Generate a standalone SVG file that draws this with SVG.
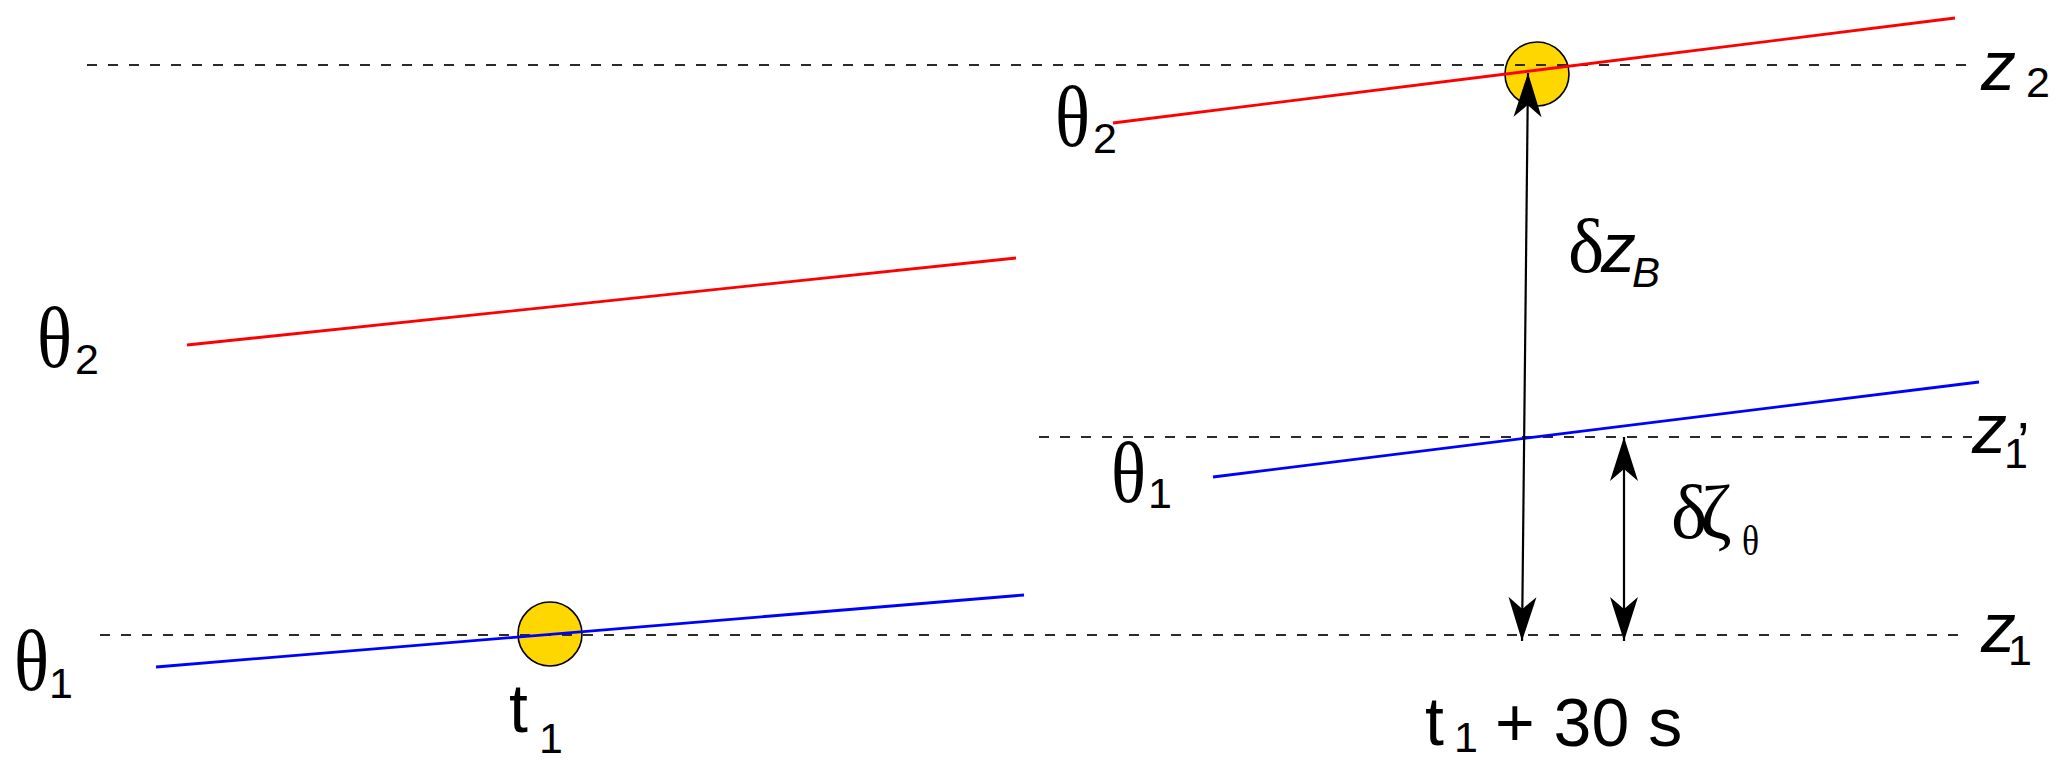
<svg xmlns="http://www.w3.org/2000/svg" width="2067" height="771" viewBox="0 0 2067 771">
<style>
.bg{fill:#ffffff}
.dash{stroke:#2a2a2a;stroke-width:2;stroke-dasharray:10 11;fill:none}
.red{stroke:#ff0000;stroke-width:2.8;fill:none}
.blue{stroke:#0000ff;stroke-width:2.8;fill:none}
.dot{fill:#ffd700;stroke:#000000;stroke-width:1.6}
.arr{stroke:#000000;stroke-width:2.2;fill:none;marker-start:url(#ah);marker-end:url(#ah)}
.gk{font-family:"Liberation Serif","DejaVu Serif",serif;font-size:77px;fill:#000}
.th{font-family:"Liberation Serif","DejaVu Serif",serif;font-size:86px;fill:#000}
.gks{font-family:"Liberation Serif","DejaVu Serif",serif;font-size:42px;fill:#000}
.sn{font-family:"Liberation Sans",Arial,sans-serif;font-size:68px;fill:#000}
.it{font-family:"Liberation Sans",Arial,sans-serif;font-size:70px;font-style:italic;fill:#000}
.sub{font-family:"Liberation Sans",Arial,sans-serif;font-size:43px;fill:#000}
.subi{font-family:"Liberation Sans",Arial,sans-serif;font-size:42px;font-style:italic;fill:#000}
</style>
<defs>
<marker id="ah" markerUnits="userSpaceOnUse" viewBox="-46 -16 48 32" refX="0" refY="0" markerWidth="48" markerHeight="32" orient="auto-start-reverse">
<path d="M0,0 L-44,-14 L-32,0 L-44,14 Z" fill="#000"/>
</marker>
</defs>
<rect class="bg" x="0" y="0" width="2067" height="771"/>

<g id="dots">
<ellipse class="dot" cx="1537" cy="74" rx="32" ry="32"/>
<ellipse class="dot" cx="550" cy="634" rx="32" ry="32"/>
</g>

<g id="levels">
<line class="dash" x1="87" y1="65" x2="1972" y2="65"/>
<line class="dash" x1="1039" y1="437" x2="1972" y2="437"/>
<line class="dash" x1="100" y1="635" x2="1966" y2="635"/>
</g>

<g id="isentropes">
<line class="red" x1="187" y1="345" x2="1016" y2="258"/>
<line class="blue" x1="156" y1="667" x2="1024" y2="595"/>
<line class="red" x1="1113" y1="123" x2="1955" y2="18"/>
<line class="blue" x1="1213" y1="477" x2="1979" y2="382"/>
</g>

<g id="connectors">
<line class="arr" x1="1522" y1="641" x2="1528" y2="73"/>
<line class="arr" x1="1624" y1="641" x2="1624" y2="437"/>
</g>

<g id="label-theta2-left"><text class="th" transform="translate(37,367) scale(0.85,1)">θ</text><text class="sub" x="75" y="374">2</text></g>
<g id="label-theta1-left"><text class="th" transform="translate(14,690) scale(0.85,1)">θ</text><text class="sub" x="49" y="698">1</text></g>
<g id="label-theta2-top"><text class="th" transform="translate(1055,146) scale(0.85,1)">θ</text><text class="sub" x="1093" y="153">2</text></g>
<g id="label-theta1-mid"><text class="th" transform="translate(1111,502) scale(0.85,1)">θ</text><text class="sub" x="1148" y="508">1</text></g>

<g id="label-z2"><text class="it" x="1981" y="90">z</text><text class="sub" x="2026" y="97">2</text></g>
<g id="label-z1p"><text class="it" x="1972" y="453">z</text><text class="sub" x="2004" y="468">1</text><text class="sn" x="2017" y="461" style="font-size:56px">’</text></g>
<g id="label-z1"><text class="it" x="1981" y="652">z</text><text class="sub" x="2008" y="665">1</text></g>

<g id="label-dzB"><text class="gk" x="1568" y="272">δ</text><text class="it" x="1601" y="272">z</text><text class="subi" x="1632" y="287">B</text></g>
<g id="label-dzeta"><text class="gk" x="1671" y="538">δ</text><text class="gk" x="1700" y="538">ζ</text><text class="gks" transform="translate(1742,555) scale(0.85,1)">θ</text></g>

<g id="label-t1"><text class="sn" x="509" y="732">t</text><text class="sub" x="539" y="753">1</text></g>
<g id="label-t1-30"><text class="sn" x="1425" y="745">t</text><text class="sub" x="1454" y="752">1</text><text class="sn" x="1495" y="746">+ 30 s</text></g>
</svg>
